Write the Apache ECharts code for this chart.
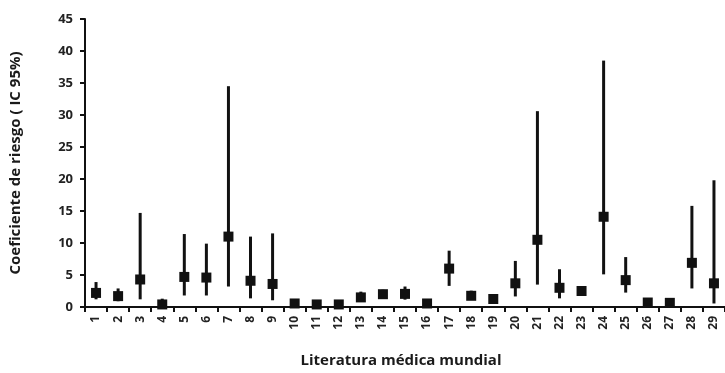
<!DOCTYPE html>
<html>
<head>
<meta charset="utf-8">
<script src="https://cdn.jsdelivr.net/npm/echarts@6/dist/echarts.min.js"></script>
<style>
  html, body { margin: 0; padding: 0; background: #fff; }
  #chart { width: 725px; height: 373px; }
</style>
</head>
<body>
<div id="chart"></div>
<script>
var categories = ['1', '2', '3', '4', '5', '6', '7', '8', '9', '10', '11', '12', '13', '14', '15',
  '16', '17', '18', '19', '20', '21', '22', '23', '24', '25', '26', '27', '28', '29'];
var estimate = [2.2, 1.7, 4.3, 0.4, 4.7, 4.6, 11.0, 4.1, 3.6, 0.55, 0.4, 0.4, 1.5, 2.0, 2.05,
  0.55, 6.0, 1.75, 1.25, 3.7, 10.5, 3.0, 2.5, 14.1, 4.2, 0.7, 0.65, 6.9, 3.7];
var lower = [1.2, 0.9, 1.2, 0.1, 1.8, 1.8, 3.2, 1.35, 1.05, 0.3, 0.3, 0.3, 0.95, 1.25, 1.15,
  0.3, 3.3, 1.1, 0.8, 1.65, 3.5, 1.35, 2.3, 5.1, 2.25, 0.4, 0.4, 2.9, 0.55];
var upper = [3.9, 2.9, 14.7, 1.3, 11.4, 9.9, 34.5, 11.0, 11.5, 0.9, 0.6, 0.6, 2.4, 2.7, 3.2,
  0.8, 8.8, 2.55, 1.8, 7.2, 30.6, 5.9, 2.7, 38.5, 7.8, 1.0, 1.0, 15.8, 19.8];
var yTicks = { min: 0, max: 45, interval: 5 };

var font = '"Open Sans", "DejaVu Sans", sans-serif';

var errorData = categories.map(function (c, i) {
  return [i, lower[i], upper[i]];
});
var pointData = categories.map(function (c, i) {
  return [i, estimate[i]];
});

var chart = echarts.init(document.getElementById('chart'), null, { renderer: 'canvas' });

var option = {
  animation: false,
  backgroundColor: '#fff',
  grid: { left: 84, right: -8, top: 19, bottom: 56, containLabel: false },
  xAxis: {
    type: 'category',
    data: categories,
    boundaryGap: true,
    name: 'Literatura médica mundial',
    nameLocation: 'middle',
    nameGap: 46,
    nameTextStyle: { fontFamily: font, fontSize: 15, fontWeight: 'bold', color: '#1a1a1a', padding: [0, 8, 0, 0] },
    axisLine: { lineStyle: { color: '#111', width: 2 } },
    axisTick: { show: true, alignWithLabel: false, length: 5, lineStyle: { color: '#111', width: 2 } },
    axisLabel: { rotate: 90, interval: 0, margin: 9, fontFamily: font, fontSize: 12, fontWeight: 'bold', color: '#222' },
    splitLine: { show: false }
  },
  yAxis: {
    type: 'value',
    min: yTicks.min,
    max: yTicks.max,
    interval: yTicks.interval,
    name: 'Coeficiente de riesgo ( IC 95%)',
    nameLocation: 'middle',
    nameGap: 62,
    nameRotate: 90,
    nameTextStyle: { fontFamily: font, fontSize: 15, fontWeight: 'bold', color: '#1a1a1a' },
    axisLine: { show: true, lineStyle: { color: '#111', width: 2 } },
    axisTick: { show: true, length: 5, lineStyle: { color: '#111', width: 2 } },
    axisLabel: { margin: 12, fontFamily: font, fontSize: 13, fontWeight: 'bold', color: '#222' },
    splitLine: { show: false }
  },
  series: [
    {
      type: 'custom',
      data: errorData,
      encode: { x: 0, y: [1, 2] },
      renderItem: function (params, api) {
        var lo = api.coord([api.value(0), api.value(1)]);
        var hi = api.coord([api.value(0), api.value(2)]);
        return {
          type: 'line',
          shape: { x1: lo[0], y1: lo[1], x2: hi[0], y2: hi[1] },
          style: { stroke: '#111', lineWidth: 3 }
        };
      },
      z: 2
    },
    {
      type: 'scatter',
      data: pointData,
      symbol: 'rect',
      symbolSize: 10,
      itemStyle: { color: '#111', opacity: 1 },
      z: 3
    }
  ]
};

chart.setOption(option);
</script>
</body>
</html>
